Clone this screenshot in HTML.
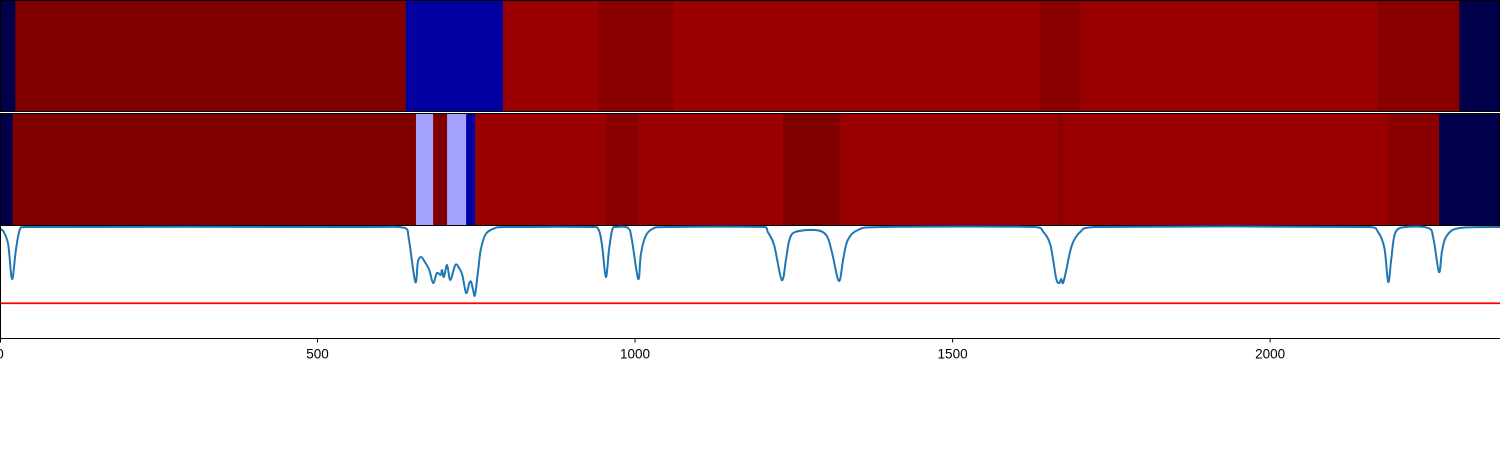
<!DOCTYPE html>
<html><head><meta charset="utf-8"><style>
html,body{margin:0;padding:0;background:#fff;width:1500px;height:450px;overflow:hidden}
svg{display:block}
text{font-family:"Liberation Sans","DejaVu Sans",sans-serif;font-size:13.5px}
</style></head><body>
<svg id="chart" width="1500" height="450" xmlns="http://www.w3.org/2000/svg">
<g id="top"></g>
<g id="mid"></g>
<g id="bot"></g>
<g id="axis"></g>
</svg>
<script>
const topEdges=[0,24,639,792,943,1060,1638,1702,2169,2298,2362];
const topValues=[0,1.0,0.118,0.948,0.98,0.948,0.98,0.948,0.98,0];
const midEdges=[0,20,655,682,704,734,748,954,1005,1233,1323,1666,1674,2186,2266,2362];
const midValues=[0,1.0,0.41,1.0,0.41,0.118,0.948,0.98,0.948,1.0,0.948,0.98,0.948,0.98,0];
const lineX=[0,6,13,19,25,31,39,535,638,644,654,658,663,669,676,682,688,694,696,699,704,709,717,723,728,734,739,742,745,748,753,757,765,780,795,929,942,948,954,959,964,970,989,995,1005,1009,1016,1027,1047,1205,1209,1219,1231,1238,1243,1252,1283,1301,1310,1321,1328,1335,1351,1386,1630,1643,1654,1663,1668,1671,1674,1679,1688,1701,1724,2157,2170,2180,2186,2191,2197,2213,2249,2257,2266,2271,2279,2299,2362];
const lineY=[0.973,0.946,0.83,0.527,0.786,0.964,0.991,0.991,0.982,0.875,0.5,0.679,0.723,0.679,0.607,0.491,0.58,0.5625,0.607,0.545,0.652,0.518,0.652,0.625,0.5625,0.402,0.491,0.5,0.429,0.384,0.607,0.786,0.929,0.982,0.991,0.991,0.973,0.83,0.545,0.786,0.964,0.991,0.982,0.875,0.527,0.741,0.902,0.973,0.991,0.991,0.946,0.83,0.518,0.714,0.875,0.946,0.964,0.92,0.768,0.509,0.714,0.875,0.964,0.991,0.991,0.946,0.83,0.536,0.491,0.527,0.491,0.607,0.83,0.946,0.991,0.991,0.946,0.804,0.5,0.714,0.9375,0.991,0.982,0.893,0.589,0.786,0.92,0.982,0.991];
const thresholdValue=[0.31];
const xTicks=[0,500,1000,1500,2000];
const NS='http://www.w3.org/2000/svg';
const X0=0,X1=1500,XMAX=2362;
function sx(v){return X0+v/XMAX*(X1-X0);}
function sy(v){return 338-v*112;}
function cmap(v){let r,g,b;
 if(v<0.25){r=0;g=0;b=0.3+0.7*v/0.25;}
 else if(v<0.5){const t=(v-0.25)*4;r=t;g=t;b=1;}
 else if(v<0.75){const t=(v-0.5)*4;r=1;g=1-t;b=1-t;}
 else{r=1-0.5*(v-0.75)/0.25;g=0;b=0;}
 return 'rgb('+Math.round(r*255)+','+Math.round(g*255)+','+Math.round(b*255)+')';}
function mk(tag,attrs,parent){const e=document.createElementNS(NS,tag);for(const k in attrs)e.setAttribute(k,attrs[k]);parent.appendChild(e);return e;}
function band(gid,edges,vals,y0,h,name){
 const g=document.getElementById(gid);
 for(let i=0;i<vals.length;i++){
  const x=sx(edges[i]),w=sx(edges[i+1])-x;
  const r=mk('rect',{x:x,y:y0,width:w+0.5,height:h,fill:cmap(vals[i])},g);
  
  
 }
 const f=mk('rect',{x:0.5,y:y0+0.5,width:1499,height:h-1,fill:'none',stroke:'#000','stroke-width':1},g);
 
 
}
band('top',topEdges,topValues,0,112,'top-band');
band('mid',midEdges,midValues,113,113,'middle-band');
const bot=document.getElementById('bot');
const th=mk('line',{x1:0,x2:1500,y1:sy(thresholdValue[0]),y2:sy(thresholdValue[0]),stroke:'#ff0000','stroke-width':1.7},bot);


const pts=lineX.map((x,i)=>[sx(x),sy(lineY[i])]);
let d='M'+pts[0][0].toFixed(1)+','+pts[0][1].toFixed(1);
for(let i=0;i<pts.length-1;i++){
 const p0=pts[Math.max(0,i-1)],p1=pts[i],p2=pts[i+1],p3=pts[Math.min(pts.length-1,i+2)];
 const c1=[p1[0]+(p2[0]-p0[0])/6,p1[1]+(p2[1]-p0[1])/6];
 const c2=[p2[0]-(p3[0]-p1[0])/6,p2[1]-(p3[1]-p1[1])/6];
 c1[0]=Math.min(Math.max(c1[0],p1[0]),p2[0]);c2[0]=Math.min(Math.max(c2[0],p1[0]),p2[0]);
 d+='C'+c1[0].toFixed(1)+','+c1[1].toFixed(1)+' '+c2[0].toFixed(1)+','+c2[1].toFixed(1)+' '+p2[0].toFixed(1)+','+p2[1].toFixed(1);
}
const p=mk('path',{d:d,fill:'none',stroke:'#1f77b4','stroke-width':2,'stroke-linejoin':'round'},bot);


const sp=mk('path',{d:'M0.5,226V338.5H1500',fill:'none',stroke:'#000','stroke-width':1},bot);


const ax=document.getElementById('axis');
xTicks.forEach(t=>{const x=Math.max(0.5,sx(t));
 const l=mk('line',{x1:x,x2:x,y1:338,y2:342.5,stroke:'#000','stroke-width':1},ax);
 
 
 const tx=mk('text',{x:sx(t),y:358.5,'text-anchor':'middle',fill:'#000'},ax);
 tx.textContent=t;
 
 
});
</script>
</body></html>
